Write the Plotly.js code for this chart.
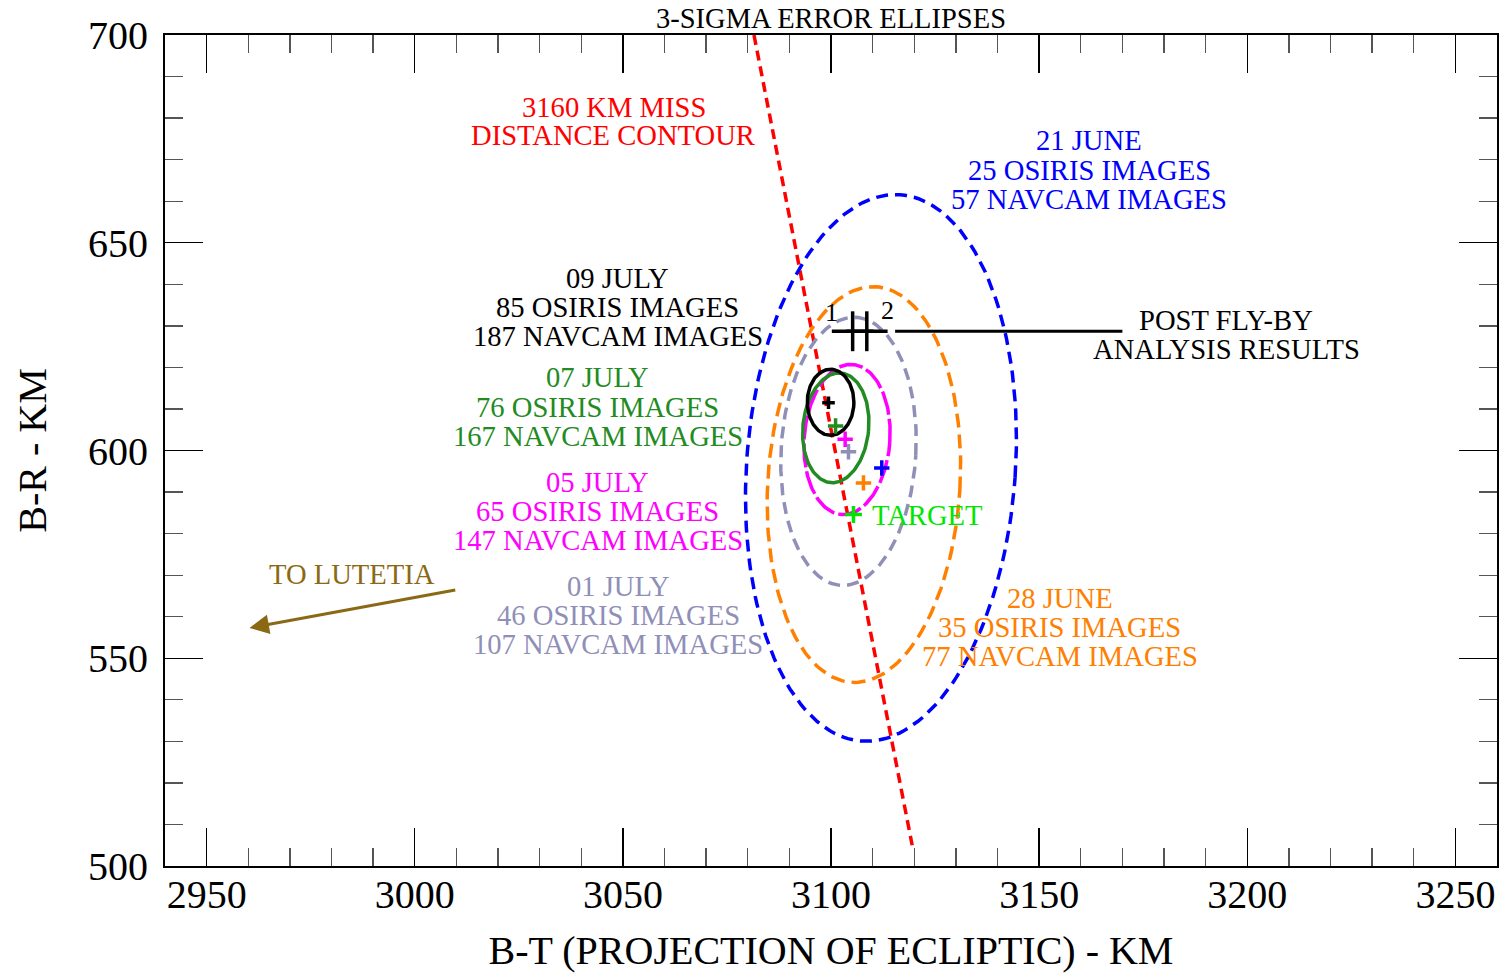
<!DOCTYPE html>
<html><head><meta charset="utf-8">
<script src="https://cdn.plot.ly/plotly-3.0.1.min.js"></script>
<style>html,body{margin:0;padding:0;background:#fff}</style>
</head><body><div id="chart" style="width:1503px;height:973px"></div>
<script>
// ---- Error ellipses (3-sigma) ----
const ELL_NAMES = ['21 JUNE', '28 JUNE', '01 JULY', '05 JULY', '07 JULY', '09 JULY'];
const ELL_CX = [3112.0, 3107.9, 3104.2, 3103.85, 3101.15, 3099.9];
const ELL_CY = [595.8, 591.8, 599.8, 602.65, 605.45, 611.6];
const ELL_A = [65.9, 47.7, 32.3, 18.1, 13.25, 7.95];   // semi-axis, near vertical
const ELL_B = [32.3, 23.1, 16.2, 10.3, 7.9, 5.6];      // semi-axis, near horizontal
const ELL_TILT = [4, 3.5, 3.2, 4.3, 5.5, 0];           // degrees clockwise from vertical
const ELL_COLORS = ['#0000ff', '#ff8000', '#8f8fb8', '#ff00ff', '#228b22', '#000000'];
const ELL_DASH = ['12px,7px', '14px,7px', '12px,7px', '24px,4px', 'solid', 'solid'];

// ---- Solution centres ----
const CTR_X = [3112.2, 3107.8, 3104.2, 3103.4, 3101.1, 3099.4];
const CTR_Y = [595.8, 592.2, 599.7, 602.7, 605.9, 611.5];

// ---- Target ----
const TARGET_X = [3105.4];
const TARGET_Y = [584.6];

// ---- Miss distance contour ----
const MISS_X = [3081.5, 3119.5];
const MISS_Y = [700, 505];

// ---- Post fly-by analysis results ----
const PFB_X = [3105.2, 3108.6];
const PFB_Y = [628.7, 628.7];
const PFB_XERR = [5.0, 5.0];
const PFB_YERR = [4.8, 4.8];
const PFB_LABELS = ['1', '2'];
const PFB_LABEL_X = [3100.0, 3113.6];
const PFB_LABEL_Y = [633.2, 633.6];
const LEADER_X = [3115.4, 3170.0];
const LEADER_Y = [628.7, 628.7];

// ---- Direction to Lutetia ----
const LUT_TAIL = [3010.1, 566.5];
const LUT_HEAD = [2960.3, 557.3];

// ---- Text labels ----
const LABEL_TEXT = ['3160 KM MISS', 'DISTANCE CONTOUR',
  '21 JUNE', '25 OSIRIS IMAGES', '57 NAVCAM IMAGES',
  '09 JULY', '85 OSIRIS IMAGES', '187 NAVCAM IMAGES',
  '07 JULY', '76 OSIRIS IMAGES', '167 NAVCAM IMAGES',
  '05 JULY', '65 OSIRIS IMAGES', '147 NAVCAM IMAGES',
  '01 JULY', '46 OSIRIS IMAGES', '107 NAVCAM IMAGES',
  '28 JUNE', '35 OSIRIS IMAGES', '77 NAVCAM IMAGES',
  'POST FLY-BY', 'ANALYSIS RESULTS', 'TO LUTETIA'];
const LABEL_X = [3047.8, 3047.8,
  3162, 3162, 3162,
  3048.8, 3048.8, 3048.8,
  3044, 3044, 3044,
  3044, 3044, 3044,
  3048.9, 3048.9, 3048.9,
  3155, 3155, 3155,
  3195, 3195, 2985];
const LABEL_Y = [682.65, 675.7,
  674.5, 667.5, 660.5,
  641.45, 634.5, 627.5,
  617.6, 610.4, 603.4,
  592.3, 585.3, 578.3,
  567.2, 560.2, 553.3,
  564.3, 557.35, 550.4,
  631.3, 624.3, 570.1];
const LABEL_COLORS = ['#ff0000', '#ff0000',
  '#0000ff', '#0000ff', '#0000ff',
  '#000000', '#000000', '#000000',
  '#228b22', '#228b22', '#228b22',
  '#ff00ff', '#ff00ff', '#ff00ff',
  '#8f8fb8', '#8f8fb8', '#8f8fb8',
  '#ff8000', '#ff8000', '#ff8000',
  '#000000', '#000000', '#8b6914'];

const X_TICKS = [2950, 3000, 3050, 3100, 3150, 3200, 3250];
const Y_TICKS = [500, 550, 600, 650, 700];

const FONT = 'Liberation Serif, Times New Roman, serif';

function ellipse(i) {
  const xs = [], ys = [];
  const phi = ELL_TILT[i] * Math.PI / 180;
  for (let d = 0; d <= 360; d += 2) {
    const t = d * Math.PI / 180;
    const u = ELL_B[i] * Math.cos(t), v = ELL_A[i] * Math.sin(t);
    xs.push(ELL_CX[i] + u * Math.cos(phi) + v * Math.sin(phi));
    ys.push(ELL_CY[i] - u * Math.sin(phi) + v * Math.cos(phi));
  }
  return {xs, ys};
}

const traces = [];
// miss distance contour
traces.push({x: MISS_X, y: MISS_Y, mode: 'lines', line: {color: '#ff0000', width: 3.5, dash: '10px,6px'}, hoverinfo: 'skip'});
// ellipses
for (let i = 0; i < ELL_NAMES.length; i++) {
  const e = ellipse(i);
  traces.push({x: e.xs, y: e.ys, mode: 'lines', name: ELL_NAMES[i],
    line: {color: ELL_COLORS[i], width: 3.5, dash: ELL_DASH[i]}});
}
// centres
for (let i = 0; i < CTR_X.length; i++) {
  traces.push({x: [CTR_X[i]], y: [CTR_Y[i]], mode: 'markers',
    marker: {symbol: 'cross-thin', size: i === 5 ? 9 : 11, line: {color: ELL_COLORS[i], width: 3.5}}});
}
// target
traces.push({x: TARGET_X, y: TARGET_Y, mode: 'markers',
  marker: {symbol: 'cross-thin', size: 12, line: {color: '#00e600', width: 3.5}}});
// post fly-by results
traces.push({x: PFB_X, y: PFB_Y, mode: 'markers', marker: {size: 1, color: '#000'},
  error_x: {type: 'data', array: PFB_XERR, width: 0, thickness: 3.5, color: '#000'},
  error_y: {type: 'data', array: PFB_YERR, width: 0, thickness: 3.5, color: '#000'}});
traces.push({x: LEADER_X, y: LEADER_Y, mode: 'lines', line: {color: '#000', width: 3}});

const annotations = [];
for (let i = 0; i < LABEL_TEXT.length; i++) {
  annotations.push({x: LABEL_X[i], y: LABEL_Y[i], xref: 'x', yref: 'y', text: LABEL_TEXT[i],
    showarrow: false, xanchor: 'center', yanchor: 'middle',
    font: {family: FONT, size: 28.6, color: LABEL_COLORS[i]}});
}
annotations.push({x: 3109.4, y: 584.3, xref: 'x', yref: 'y', text: 'TARGET', showarrow: false,
  xanchor: 'left', yanchor: 'middle', font: {family: FONT, size: 28.6, color: '#00e600'}});
for (let i = 0; i < PFB_LABELS.length; i++) {
  annotations.push({x: PFB_LABEL_X[i], y: PFB_LABEL_Y[i], xref: 'x', yref: 'y', text: PFB_LABELS[i],
    showarrow: false, xanchor: 'center', yanchor: 'middle', font: {family: FONT, size: 26, color: '#000'}});
}
annotations.push({x: LUT_HEAD[0], y: LUT_HEAD[1], ax: LUT_TAIL[0], ay: LUT_TAIL[1],
  xref: 'x', yref: 'y', axref: 'x', ayref: 'y', text: '', showarrow: true,
  arrowhead: 2, arrowsize: 1.3, arrowwidth: 3, arrowcolor: '#8b6914', standoff: 0});

const axisCommon = {
  showgrid: false, zeroline: false, showline: true, linecolor: '#000', linewidth: 2,
  mirror: 'allticks', ticks: 'inside', tickcolor: '#000', tickwidth: 1.3, ticklen: 38,
  tickfont: {family: FONT, size: 40, color: '#000'},
  minor: {ticks: 'inside', ticklen: 18, dtick: 10, tickcolor: '#555', tickwidth: 1.3, showgrid: false}
};

const layout = {
  width: 1503, height: 973,
  margin: {l: 165, r: 6, t: 35, b: 107},
  paper_bgcolor: '#fff', plot_bgcolor: '#fff',
  showlegend: false,
  font: {family: FONT, color: '#000'},
  title: {text: '3-SIGMA ERROR ELLIPSES', font: {family: FONT, size: 28.5, color: '#000'},
    x: 0.5529, xanchor: 'center', y: 0.9815, yanchor: 'middle', yref: 'container'},
  xaxis: Object.assign({}, axisCommon, {range: [2940, 3260], tickvals: X_TICKS,
    ticktext: X_TICKS.map(String), ticklabelstandoff: -8,
    title: {text: 'B-T (PROJECTION OF ECLIPTIC) - KM', font: {family: FONT, size: 40, color: '#000'}, standoff: 32}}),
  yaxis: Object.assign({}, axisCommon, {range: [500, 700], tickvals: Y_TICKS,
    ticktext: Y_TICKS.map(String), ticklabelstandoff: 7,
    title: {text: 'B-R - KM', font: {family: FONT, size: 40, color: '#000'}, standoff: 29}}),
  annotations: annotations
};

Plotly.newPlot('chart', traces, layout, {displayModeBar: false, staticPlot: true});
</script>
</body></html>
